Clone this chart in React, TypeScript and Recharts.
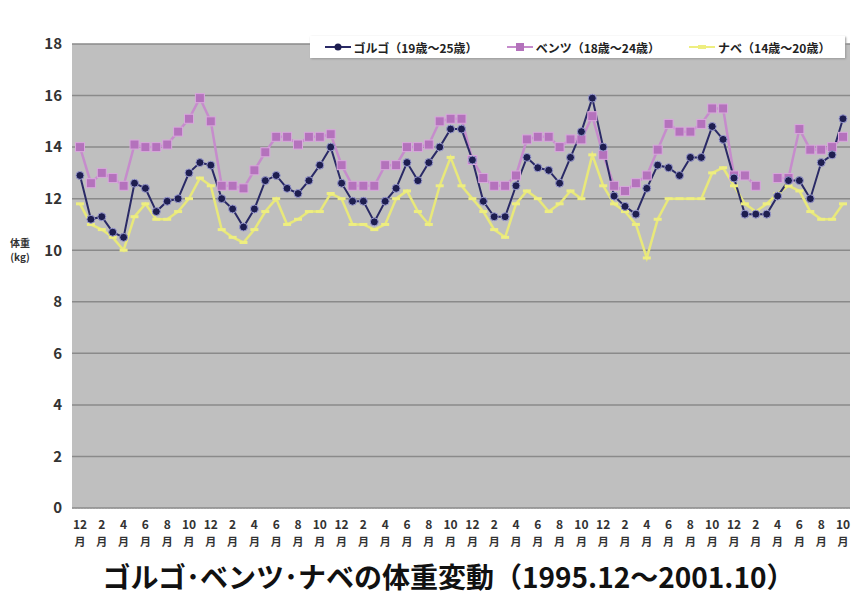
import React from 'react';
import { LineChart, Line, XAxis, YAxis, CartesianGrid, Legend } from 'recharts';

// 1995.12 〜 2001.10, monthly
const months = [
  12,
  1, 2, 3, 4, 5, 6, 7, 8, 9, 10, 11, 12,
  1, 2, 3, 4, 5, 6, 7, 8, 9, 10, 11, 12,
  1, 2, 3, 4, 5, 6, 7, 8, 9, 10, 11, 12,
  1, 2, 3, 4, 5, 6, 7, 8, 9, 10, 11, 12,
  1, 2, 3, 4, 5, 6, 7, 8, 9, 10, 11, 12,
  1, 2, 3, 4, 5, 6, 7, 8, 9, 10,
];

const golgo = [
  12.9, 11.2, 11.3, 10.7, 10.5, 12.6, 12.4, 11.5, 11.9, 12.0, 13.0, 13.4, 13.3,
  12.0, 11.6, 10.9, 11.6, 12.7, 12.9, 12.4, 12.2, 12.7, 13.3, 14.0, 12.6,
  11.9, 11.9, 11.1, 11.9, 12.4, 13.4, 12.7, 13.4, 14.0, 14.7, 14.7, 13.5,
  11.9, 11.3, 11.3, 12.5, 13.6, 13.2, 13.1, 12.6, 13.6, 14.6, 15.9, 14.0,
  12.1, 11.7, 11.4, 12.4, 13.3, 13.2, 12.9, 13.6, 13.6, 14.8, 14.3, 12.8,
  11.4, 11.4, 11.4, 12.1, 12.7, 12.7, 12.0, 13.4, 13.7, 15.1,
];

const benzu = [
  14.0, 12.6, 13.0, 12.8, 12.5, 14.1, 14.0, 14.0, 14.1, 14.6, 15.1, 15.9, 15.0,
  12.5, 12.5, 12.4, 13.1, 13.8, 14.4, 14.4, 14.1, 14.4, 14.4, 14.5, 13.3,
  12.5, 12.5, 12.5, 13.3, 13.3, 14.0, 14.0, 14.1, 15.0, 15.1, 15.1, 13.5,
  12.8, 12.5, 12.5, 12.9, 14.3, 14.4, 14.4, 14.0, 14.3, 14.3, 15.2, 13.7,
  12.5, 12.3, 12.6, 12.9, 13.9, 14.9, 14.6, 14.6, 14.9, 15.5, 15.5, 12.9,
  12.9, 12.5, null, 12.8, 12.8, 14.7, 13.9, 13.9, 14.0, 14.4,
];

const nabe = [
  11.8, 11.0, 10.8, 10.5, 10.0, 11.3, 11.8, 11.2, 11.2, 11.5, 12.0, 12.8, 12.5,
  10.8, 10.5, 10.3, 10.8, 11.5, 12.0, 11.0, 11.2, 11.5, 11.5, 12.2, 12.0,
  11.0, 11.0, 10.8, 11.0, 12.0, 12.3, 11.5, 11.0, 12.5, 13.6, 12.5, 12.0,
  11.5, 10.8, 10.5, 11.8, 12.3, 12.0, 11.5, 11.8, 12.3, 12.0, 13.7, 12.5,
  11.8, 11.5, 11.0, 9.7, 11.2, 12.0, 12.0, 12.0, 12.0, 13.0, 13.2, 12.5,
  11.8, 11.5, 11.8, 12.2, 12.5, 12.3, 11.5, 11.2, 11.2, 11.8,
];

const yTicks = [0, 2, 4, 6, 8, 10, 12, 14, 16, 18];

const names = ['ゴルゴ（19歳〜25歳）', 'ベンツ（18歳〜24歳）', 'ナベ（14歳〜20歳）'];

const data = months.map((m, i) => ({
  idx: i,
  month: m,
  golgo: golgo[i],
  benzu: benzu[i],
  nabe: nabe[i],
}));

const FONT = '"Noto Sans CJK JP", "Noto Sans", sans-serif';

const MonthTick = ({ x, y, payload }: any) => {
  const m = months[payload.value];
  return (
    <g transform={`translate(${x},${y})`}>
      <text x={0} y={13} textAnchor="middle" fontFamily={FONT} fontWeight="bold" fontSize={12} fill="#333">
        {m}
      </text>
      <text x={0} y={30} textAnchor="middle" fontFamily={FONT} fontWeight="bold" fontSize={11} fill="#333">
        月
      </text>
    </g>
  );
};

const SquareDot = (props: any) => {
  const { cx, cy, index, value } = props;
  if (value == null || cx == null || cy == null) return <g key={`b-${index}`} />;
  return <rect key={`b-${index}`} x={cx - 4.5} y={cy - 4.5} width={9} height={9} fill="#b472bc" stroke="#d8a8dc" strokeWidth={1} />;
};

const NabeDot = (props: any) => {
  const { cx, cy, index } = props;
  if (cx == null || cy == null) return <g key={`n-${index}`} />;
  return <rect key={`n-${index}`} x={cx - 4} y={cy - 1.5} width={8} height={3} fill="#eeee80" />;
};

const LegendBox = () => (
  <div
    style={{
      background: '#ffffff',
      height: 22,
      display: 'flex',
      alignItems: 'center',
      justifyContent: 'space-around',
      fontFamily: FONT,
      fontSize: 12,
      fontWeight: 'bold',
      color: '#222',
      boxShadow: '1px 1px 2px #999',
    }}
  >
    <span style={{ display: 'flex', alignItems: 'center' }}>
      <svg width={26} height={10}>
        <line x1={0} y1={5} x2={26} y2={5} stroke="#2a2a66" strokeWidth={2} />
        <circle cx={13} cy={5} r={3.5} fill="#1e1e50" />
      </svg>
      <span style={{ marginLeft: 3 }}>{names[0]}</span>
    </span>
    <span style={{ display: 'flex', alignItems: 'center' }}>
      <svg width={26} height={10}>
        <line x1={0} y1={5} x2={26} y2={5} stroke="#c68ccc" strokeWidth={2} />
        <rect x={9} y={1} width={8} height={8} fill="#b472bc" />
      </svg>
      <span style={{ marginLeft: 3 }}>{names[1]}</span>
    </span>
    <span style={{ display: 'flex', alignItems: 'center' }}>
      <svg width={26} height={10}>
        <line x1={0} y1={5} x2={26} y2={5} stroke="#eeee80" strokeWidth={2} />
        <rect x={9} y={3} width={8} height={4} fill="#eeee80" />
      </svg>
      <span style={{ marginLeft: 3 }}>{names[2]}</span>
    </span>
  </div>
);

export default function App() {
  return (
    <div style={{ position: 'absolute', left: 0, top: 0, width: 851, height: 595, background: '#fff' }}>
      <LineChart width={851} height={550} data={data} margin={{ top: 22, right: 1, bottom: 0, left: 0 }}>
        <CartesianGrid vertical={false} fill="#bfbfbf" stroke="#8a8a8a" strokeWidth={1.5} />
        <XAxis
          dataKey="idx"
          type="category"
          interval={1}
          tick={<MonthTick />}
          tickLine={false}
          axisLine={{ stroke: '#999', strokeDasharray: '2 1' }}
          height={42}
          padding={{ left: 8, right: 7 }}
        />
        <YAxis
          domain={[0, 18]}
          ticks={yTicks}
          width={72}
          axisLine={false}
          tickLine={false}
          tick={{ fontFamily: FONT, fontWeight: 'bold', fontSize: 15, fill: '#333' }}
          tickMargin={4}
        />
        <Legend
          verticalAlign="top"
          content={() => <LegendBox />}
          wrapperStyle={{ position: 'absolute', left: 310, top: 36, width: 535 }}
        />
        <Line
          dataKey="nabe"
          stroke="#e8e87a"
          strokeWidth={2.5}
          dot={<NabeDot />}
          isAnimationActive={false}
        />
        <Line
          dataKey="benzu"
          stroke="#c68ccc"
          strokeWidth={2.5}
          dot={<SquareDot />}
          connectNulls={false}
          isAnimationActive={false}
        />
        <Line
          dataKey="golgo"
          stroke="#2a2a66"
          strokeWidth={2}
          dot={{ r: 4, fill: '#1e1e50', stroke: '#9a9ad0', strokeWidth: 1 }}
          isAnimationActive={false}
        />
      </LineChart>
      <div
        style={{
          position: 'absolute',
          left: 10,
          top: 236,
          fontFamily: FONT,
          fontSize: 10,
          fontWeight: 'bold',
          lineHeight: '14px',
          color: '#333',
          textAlign: 'center',
        }}
      >
        体重
        <br />
        (kg)
      </div>
      <div
        style={{
          position: 'absolute',
          left: 23,
          top: 558,
          width: 851,
          textAlign: 'center',
          fontFamily: FONT,
          fontSize: 28,
          fontWeight: 'bold',
          color: '#111',
          lineHeight: '36px',
          whiteSpace: 'nowrap',
        }}
      >
        ゴルゴ･ベンツ･ナベの体重変動（1995.12〜2001.10）
      </div>
    </div>
  );
}
